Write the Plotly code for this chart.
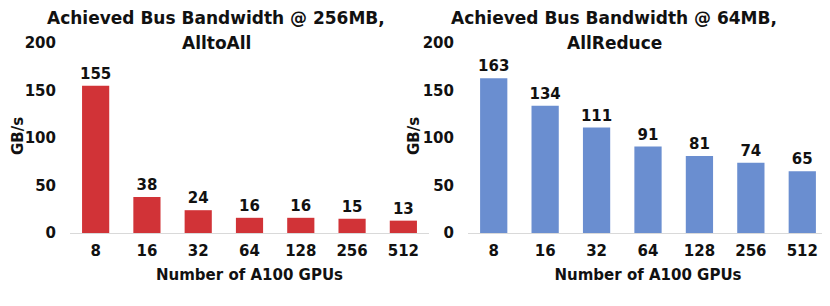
import plotly.graph_objects as go

gpus = ["8", "16", "32", "64", "128", "256", "512"]
alltoall = [155, 38, 24, 16, 16, 15, 13]
allreduce = [163, 134, 111, 91, 81, 74, 65]
y_ticks = [0, 50, 100, 150, 200]
titles = [("Achieved Bus Bandwidth @ 256MB,", "AlltoAll"),
          ("Achieved Bus Bandwidth @ 64MB,", "AllReduce")]
x_title = "Number of A100 GPUs"
y_title = "GB/s"

FONT = "DejaVu Sans"
fcol = "#111111"
red = "#D13337"
blue = "#6A8ED0"

# page body has an 8px margin; figure is sized to fit the window
W, H = 822, 298
OFF = 8
T, B = 43 - OFF, 73
PH = H - T - B

fig = go.Figure()
for vals, col, xa, ya in [(alltoall, red, "x", "y"), (allreduce, blue, "x2", "y2")]:
    fig.add_trace(go.Bar(x=gpus, y=vals, marker=dict(color=col, line=dict(width=0)),
                         text=vals, textposition="outside", cliponaxis=False,
                         constraintext="none",
                         textfont=dict(family=FONT, size=15, color=fcol, weight="bold"),
                         xaxis=xa, yaxis=ya))

axfont = dict(family=FONT, size=15, color=fcol, weight="bold")
common_x = dict(showgrid=False, showline=True, linecolor="#d9d9d9", linewidth=1,
                ticks="", tickfont=axfont, ticklabelstandoff=4, automargin=False,
                title=dict(text=x_title, font=axfont, standoff=10))
common_y = dict(range=[0, 200], tickvals=y_ticks, showgrid=False, zeroline=False,
                showline=False, ticks="", tickfont=axfont, ticklabelstandoff=13,
                automargin=False)

fig.update_layout(
    width=W, height=H,
    margin=dict(l=0, r=0, t=T, b=B),
    plot_bgcolor="white", paper_bgcolor="white",
    showlegend=False, bargap=0.47,
    xaxis=dict(domain=[(70 - OFF) / W, (429 - OFF) / W], anchor="y", **common_x),
    yaxis=dict(anchor="x", **common_y),
    xaxis2=dict(domain=[(468 - OFF) / W, (828 - OFF) / W], anchor="y2", **common_x),
    yaxis2=dict(anchor="x2", **common_y),
    font=dict(family=FONT),
)
for cx, (l1, l2) in [(216, titles[0]), (614, titles[1])]:
    for txt, sh in [(l1, 25), (l2, 0)]:
        fig.add_annotation(x=(cx - OFF) / W, y=1, xref="paper", yref="paper",
                           xanchor="center", yanchor="middle", yshift=sh,
                           showarrow=False, text=txt,
                           font=dict(family=FONT, size=17, color=fcol, weight="bold"))
# rotated y-axis titles
for px in (18, 414):
    fig.add_annotation(x=(px - OFF) / W, y=1 - (136 - OFF - T) / PH, xref="paper", yref="paper",
                       xanchor="center", yanchor="middle", textangle=-90,
                       showarrow=False, text=y_title, font=axfont)

fig.write_html("out.html")
